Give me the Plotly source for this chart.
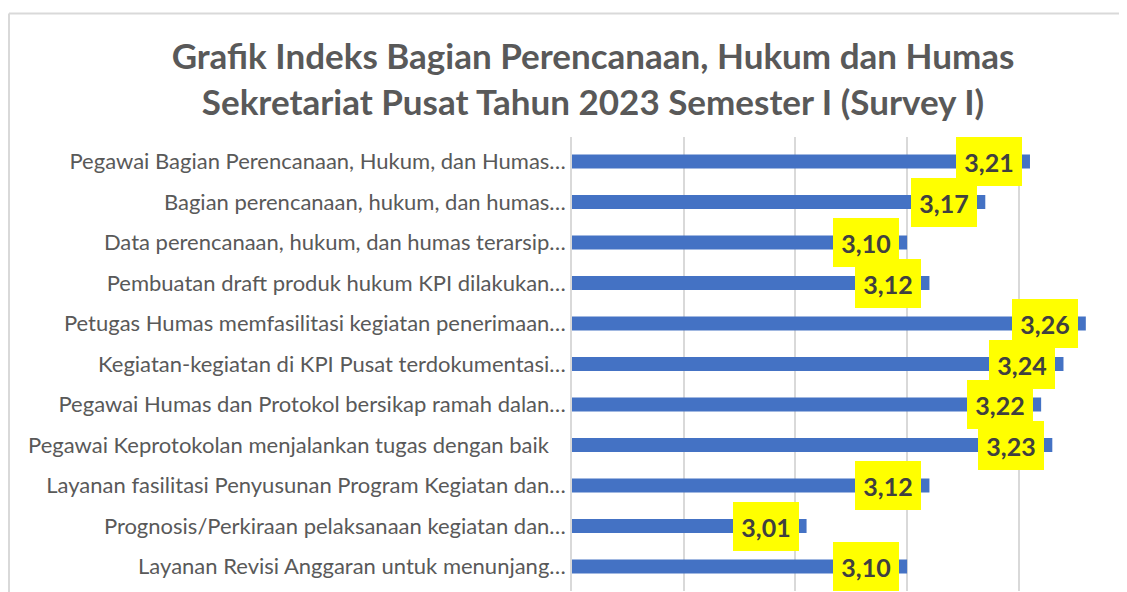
import plotly.graph_objects as go

categories = [
    "Pegawai Bagian Perencanaan, Hukum, dan Humas…",
    "Bagian perencanaan, hukum, dan humas…",
    "Data perencanaan, hukum, dan humas terarsip…",
    "Pembuatan draft produk hukum KPI dilakukan…",
    "Petugas Humas memfasilitasi kegiatan penerimaan…",
    "Kegiatan-kegiatan di KPI Pusat terdokumentasi…",
    "Pegawai Humas dan Protokol bersikap ramah dalan…",
    "Pegawai Keprotokolan menjalankan tugas dengan baik\u00a0\u00a0\u00a0",
    "Layanan fasilitasi Penyusunan Program Kegiatan dan…",
    "Prognosis/Perkiraan pelaksanaan kegiatan dan…",
    "Layanan Revisi Anggaran untuk menunjang…",
]
values = [3.21, 3.17, 3.10, 3.12, 3.26, 3.24, 3.22, 3.23, 3.12, 3.01, 3.10]
value_labels = [f"{v:.2f}".replace(".", ",") for v in values]

title_text = ("Grafik Indeks Bagian Perencanaan, Hukum dan Humas<br>"
              "Sekretariat Pusat Tahun 2023 Semester I (Survey I)")

# page has an 8px body margin; work in figure coordinates
OFF = 8
W, H = 1127 - OFF, 592 - OFF
L, T, B = 572 - OFF, 137 - OFF, 1

fig = go.Figure()
fig.add_trace(go.Bar(
    x=values, y=categories, orientation="h",
    marker=dict(color="#4472C4", line=dict(width=0)),
    width=0.35,
    hoverinfo="x+y",
))

for cat, v, lab in zip(categories, values, value_labels):
    fig.add_annotation(
        x=v, y=cat, xref="x", yref="y", text=f"<b>{lab}</b>",
        showarrow=False, xanchor="right", yanchor="middle", xshift=-8,
        bgcolor="#FFFF00", width=62, height=45, borderpad=2, borderwidth=0,
        font=dict(family="Lato", size=25, color="#404040"), align="center",
    )

# outer chart border (decorative)
pw = W - L
ph = H - T - B
ytop = (H - B - (13.5 - OFF)) / ph
xleft = (1 - L) / pw
fig.add_shape(type="line", xref="paper", yref="paper",
              x0=xleft, x1=1.0, y0=ytop, y1=ytop,
              line=dict(color="#D9D9D9", width=2))
fig.add_shape(type="line", xref="paper", yref="paper",
              x0=xleft, x1=xleft, y0=ytop, y1=-0.05,
              line=dict(color="#D9D9D9", width=2))

fig.update_layout(
    width=W, height=H,
    margin=dict(l=L, r=0, t=T, b=B, pad=0),
    paper_bgcolor="white", plot_bgcolor="white",
    showlegend=False,
    title=dict(text=title_text, x=(593 - OFF) / W, xanchor="center",
               y=1 - (69 - OFF) / H, yanchor="middle",
               font=dict(family="Lato", size=35, color="#595959", weight="bold")),
    xaxis=dict(range=[2.8, 2.8 + pw / 1117], dtick=0.1, tick0=2.8,
               showgrid=True, gridcolor="#D9D9D9", gridwidth=1.5,
               showticklabels=False, zeroline=False, showline=False, ticks=""),
    yaxis=dict(autorange="reversed", showgrid=False, showline=True, linecolor="#D9D9D9",
               linewidth=1.5, ticks="", ticklabelstandoff=0,
               tickfont=dict(family="Lato", size=22, color="#595959")),
    font=dict(family="Lato"),
)

fig.write_html("out.html")
